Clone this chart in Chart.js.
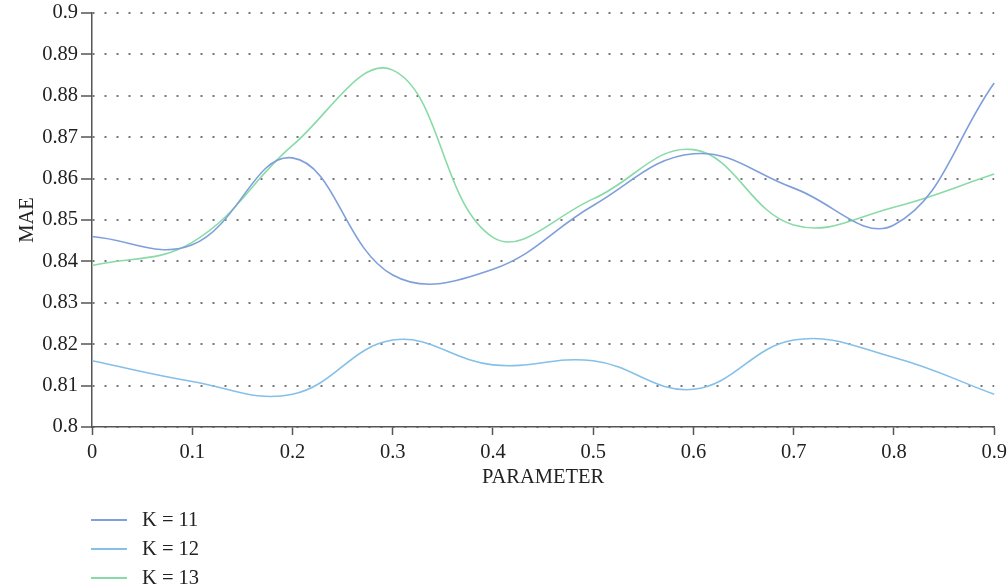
<!DOCTYPE html>
<html>
<head>
<meta charset="utf-8">
<script src="https://cdn.jsdelivr.net/npm/chart.js@4/dist/chart.umd.min.js"></script>
<style>
  html, body { margin: 0; padding: 0; background: #fff; overflow: hidden; }
  #wrap { position: relative; width: 1012px; height: 588px; }
  #legend { position: absolute; left: 91px; top: 505px; font-family: "Liberation Serif", serif; font-size: 20.5px; color: #222; }
  .item { display: flex; align-items: center; height: 29px; }
  .swatch { width: 36px; height: 2px; margin-right: 15px; }
</style>
</head>
<body>
<div id="wrap">
  <canvas id="chart"></canvas>
  <div id="legend"></div>
</div>
<script>
// x categories (PARAMETER)
const params = ["0", "0.1", "0.2", "0.3", "0.4", "0.5", "0.6", "0.7", "0.8", "0.9"];

// MAE per K
const k11 = [0.846, 0.844, 0.865, 0.8367, 0.8381, 0.8535, 0.866, 0.8577, 0.8488, 0.8831];
const k12 = [0.816, 0.811, 0.8079, 0.821, 0.815, 0.816, 0.8091, 0.821, 0.8168, 0.8079];
const k13 = [0.839, 0.8446, 0.868, 0.8862, 0.8458, 0.8551, 0.867, 0.8488, 0.8531, 0.8611];

const seriesNames = ["K = 11", "K = 12", "K = 13"];
const seriesColors = ["#7f9fdb", "#85c0e8", "#88dba6"];

const FONT = "'Liberation Serif', serif";
const FS = 20.5;

const ctx = document.getElementById("chart").getContext("2d");
const chart = new Chart(ctx, {
  type: "line",
  data: {
    labels: params,
    datasets: [k11, k12, k13].map((vals, i) => ({
      label: seriesNames[i],
      data: vals,
      borderColor: seriesColors[i],
      backgroundColor: seriesColors[i],
      borderWidth: 1.6,
      pointRadius: 0,
      tension: 0.4,
      fill: false,
    })),
  },
  options: {
    responsive: true,
    maintainAspectRatio: false,
    animation: false,
    layout: { padding: { top: 13, right: 14, left: 0, bottom: 91 } },
    plugins: {
      legend: { display: false },
      tooltip: { enabled: false },
    },
    scales: {
      x: {
        type: "category",
        offset: false,
        afterFit: (s) => { s.height = 70; },
        grid: {
          drawOnChartArea: false,
          drawTicks: true,
          tickLength: 8,
          tickColor: "#555",
          tickWidth: 1.5,
        },
        border: { display: true, color: "#555", width: 1.5 },
        ticks: {
          color: "#222",
          font: { family: FONT, size: FS },
          padding: 5,
          maxRotation: 0,
          autoSkip: false,
        },
        title: {
          display: true,
          text: "PARAMETER",
          color: "#222",
          font: { family: FONT, size: FS },
          padding: { top: 0, bottom: 7 },
        },
      },
      y: {
        min: 0.8,
        max: 0.9,
        afterFit: (s) => {
          s.width = 92;
          s.paddingTop = 0;
        },
        grid: {
          color: "#777",
          lineWidth: 2,
          tickBorderDash: [],
          tickColor: "#555",
          tickWidth: 1.5,
          tickLength: 11,
        },
        border: { display: true, color: "#555", width: 1.5, dash: [2, 10] },
        ticks: {
          stepSize: 0.01,
          color: "#222",
          font: { family: FONT, size: FS },
          padding: 3,
          callback: (v) => String(+v.toFixed(2)),
        },
        title: {
          display: true,
          text: "MAE",
          color: "#222",
          font: { family: FONT, size: FS },
          padding: { top: 15, bottom: 0 },
        },
      },
    },
  },
});

// legend, stacked vertically under the plot
const legendEl = document.getElementById("legend");
chart.data.datasets.forEach((ds) => {
  const row = document.createElement("div");
  row.className = "item";
  const sw = document.createElement("span");
  sw.className = "swatch";
  sw.style.background = ds.borderColor;
  const txt = document.createElement("span");
  txt.textContent = ds.label;
  row.appendChild(sw);
  row.appendChild(txt);
  legendEl.appendChild(row);
});
</script>
</body>
</html>
